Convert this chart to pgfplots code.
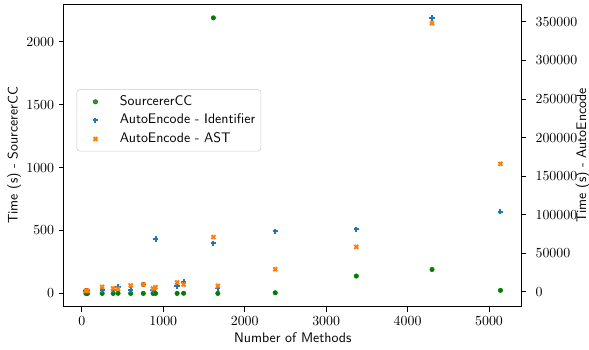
\documentclass[border=0pt]{standalone}
\usepackage{pgfplots}
\pgfplotsset{compat=1.18}
\definecolor{mgreen}{HTML}{008000}
\definecolor{mblue}{HTML}{1F77B4}
\definecolor{morange}{HTML}{FF7F0E}
\pgfplotsset{
  common/.style={
    scale only axis, width=329.5pt, height=218pt,
    xmin=-220, xmax=5400,
    tick align=outside, major tick length=3.5pt,
    every tick/.style={black, line width=0.6pt},
    axis line style={line width=0.6pt},
    /pgf/number format/1000 sep={},
    /pgf/number format/fixed,
    scaled ticks=false,
    label style={font=\sffamily},
  },
  limg/.style={legend image code/.code={\path[draw=none] (0cm,0cm) -- (0.95cm,0cm); \draw[##1,/tikz/only marks] plot coordinates {(0.4cm,0cm)};}},
}
\begin{document}
\begin{tikzpicture}
\begin{axis}[common, name=ax1,
  ymin=-107, ymax=2300,
  xtick={0,1000,...,5000}, xtick pos=bottom,
  ytick={0,500,...,2000}, ytick pos=left,
  xlabel={Number of Methods}, ylabel={Time (s) - SourcererCC},
  xlabel style={yshift=2pt}, ylabel style={yshift=-3pt},
]
\addplot[only marks, mark=*, mark size=1.6pt, color=mgreen] coordinates {
(50,0) (70,0) (250,0) (385,0) (445,1) (600,0) (755,0) (875,0) (905,0)
(1170,0) (1250,1) (1615,2190) (1670,0) (2375,5) (3370,138) (4300,190) (5140,24)
};
\end{axis}
\begin{axis}[common,
  ymin=-19400, ymax=373000,
  axis x line=none, axis y line*=right,
  ytick={0,50000,...,350000}, ytick pos=right, yticklabel pos=right,
  yticklabel style={/pgf/number format/fixed, /pgf/number format/precision=0, xshift=3pt},
  ylabel={Time (s) - AutoEncode}, ylabel style={yshift=8pt},
  legend cell align=left,
  legend style={at={(0.0277,0.718)}, anchor=north west, font=\sffamily,
    draw=black!20, rounded corners=2pt, fill=white, fill opacity=0.8, text opacity=1,
    inner xsep=2pt, inner ysep=2pt, row sep=0pt,
    nodes={text height=6.9pt, text depth=1.9pt, inner ysep=2.3pt}},
]
\addlegendimage{only marks, mark=*, mark size=1.6pt, color=mgreen, limg}
\addlegendentry{SourcererCC}
\addplot[only marks, mark=+, mark size=1.9pt, line width=1.4pt, color=mblue, limg] coordinates {
(50,1500) (70,1800) (250,2500) (385,2500) (445,6500) (600,2500) (755,9600) (875,2000) (905,68700)
(1170,7800) (1250,13000) (1615,63000) (1670,4400) (2375,78300) (3370,80900) (4300,355000) (5140,103700)
};
\addlegendentry{AutoEncode - Identifier}
\addplot[only marks, mark=x, mark size=2pt, line width=1.4pt, color=morange, limg] coordinates {
(50,1300) (70,1500) (250,6500) (385,4500) (445,4000) (600,8300) (755,9600) (875,4400) (905,6100)
(1170,12200) (1250,9600) (1615,70900) (1670,7800) (2375,29400) (3370,58300) (4300,348000) (5140,165900)
};
\addlegendentry{AutoEncode - AST}
\end{axis}
\pgfresetboundingbox
\path ([xshift=-46pt,yshift=-30.5pt]ax1.south west) rectangle ([xshift=48.5pt,yshift=2.9pt]ax1.north east);
\end{tikzpicture}
\end{document}
